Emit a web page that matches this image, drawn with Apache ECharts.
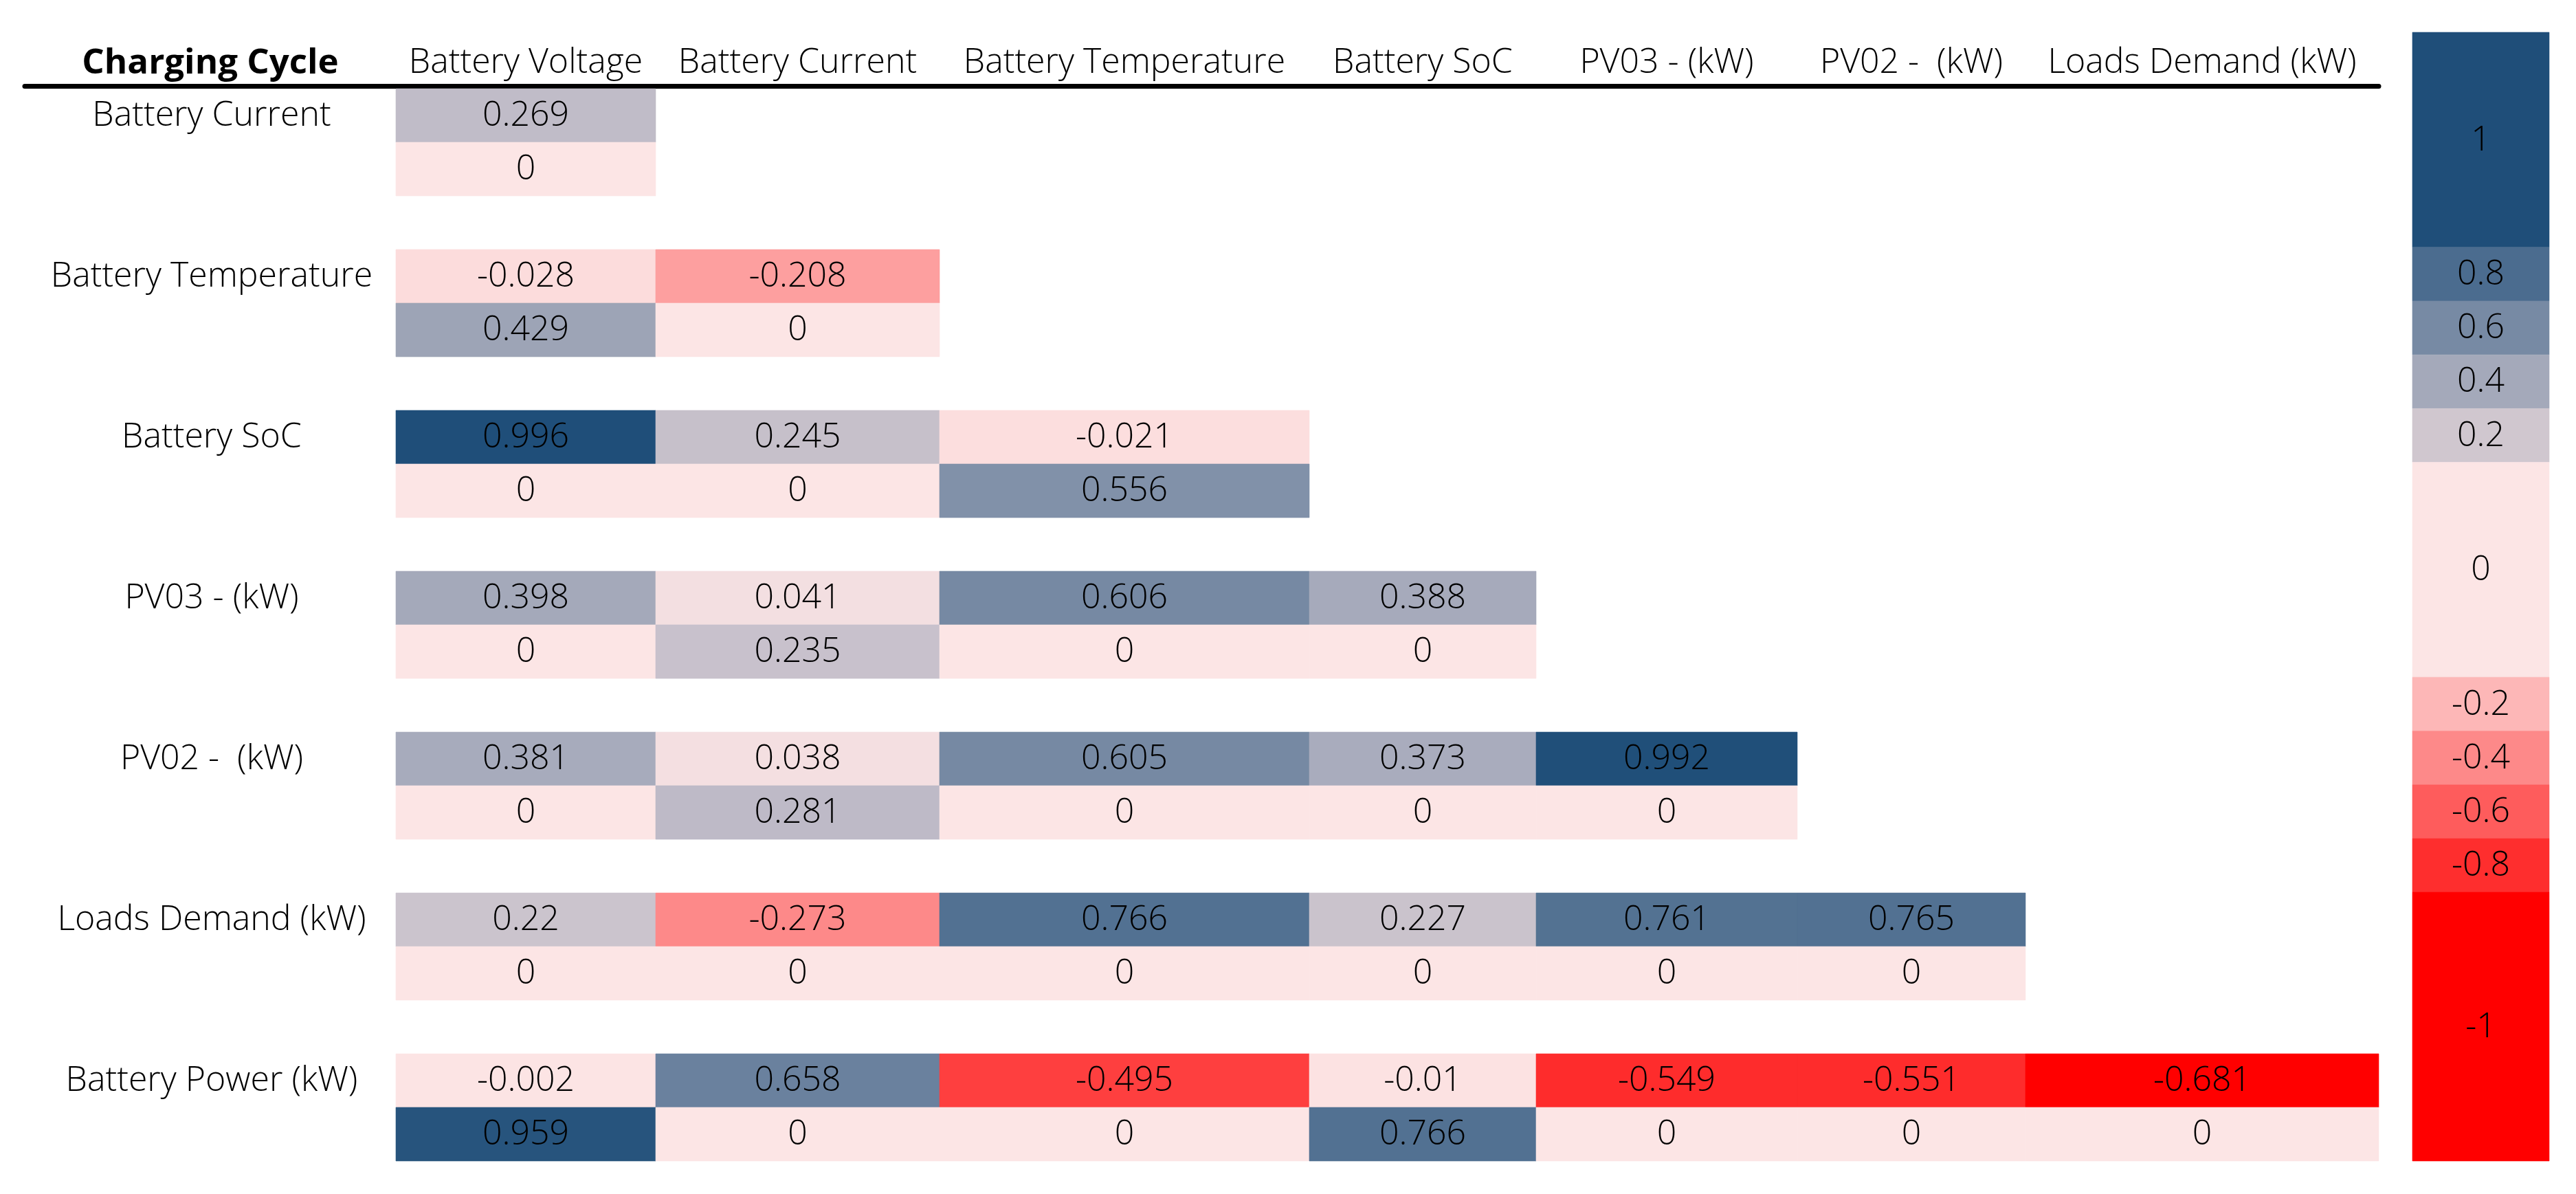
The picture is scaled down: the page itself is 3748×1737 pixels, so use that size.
<!DOCTYPE html>
<html><head><meta charset="utf-8">
<script src="https://cdn.jsdelivr.net/npm/echarts@6/dist/echarts.min.js"></script>
<style>html,body{margin:0;padding:0;background:#fff}#c{width:3748px;height:1737px}</style>
</head><body><div id="c"></div>
<script>
// ---------- data ----------
const title = 'Charging Cycle';
const columns = ['Battery Voltage', 'Battery Current', 'Battery Temperature', 'Battery SoC', 'PV03 - (kW)', 'PV02 -  (kW)', 'Loads Demand (kW)'];
const rows = ['Battery Current', 'Battery Temperature', 'Battery SoC', 'PV03 - (kW)', 'PV02 -  (kW)', 'Loads Demand (kW)', 'Battery Power (kW)'];
const correlations = [
  [0.269],
  [-0.028, -0.208],
  [0.996, 0.245, -0.021],
  [0.398, 0.041, 0.606, 0.388],
  [0.381, 0.038, 0.605, 0.373, 0.992],
  [0.22, -0.273, 0.766, 0.227, 0.761, 0.765],
  [-0.002, 0.658, -0.495, -0.01, -0.549, -0.551, -0.681]
];
const pValues = [
  [0],
  [0.429, 0],
  [0, 0, 0.556],
  [0, 0.235, 0, 0],
  [0, 0.281, 0, 0, 0],
  [0, 0, 0, 0, 0, 0],
  [0.959, 0, 0, 0.766, 0, 0, 0]
];
const legendLabels = [1, 0.8, 0.6, 0.4, 0.2, 0, -0.2, -0.4, -0.6, -0.8, -1];

// ---------- layout / style ----------
const labelColWidth = 540;
const colWidths = [378, 413, 538, 330, 380, 332, 514];
const legendSpans = [4, 1, 1, 1, 1, 4, 1, 1, 1, 1, 5];
const FONT = "'Open Sans', 'Noto Sans', sans-serif";
const FS = 50;
const RED = [255, 0, 0], MID = [252, 229, 229], BLUE = [31, 78, 121];

const edges = [0];
colWidths.forEach(w => edges.push(edges[edges.length - 1] + w));
const totalW = edges[edges.length - 1];

function colorFor(v, lo, hi) {
  let b, t;
  if (v >= 0) { b = BLUE; t = hi > 0 ? v / hi : 0; }
  else { b = RED; t = lo < 0 ? v / lo : 0; }
  t = Math.max(0, Math.min(1, t));
  return 'rgb(' + MID.map((x, i) => Math.round(x + (b[i] - x) * t)).join(',') + ')';
}

// cells: [col, slot, value]
const cellData = [];
rows.forEach((r, ri) => {
  correlations[ri].forEach((v, ci) => cellData.push([ci, ri * 3, v]));
  pValues[ri].forEach((v, ci) => cellData.push([ci, ri * 3 + 1, v]));
});
const allVals = cellData.map(d => d[2]);
const lo = Math.min(...allVals), hi = Math.max(...allVals);

const legendData = [];
let acc = 0;
legendLabels.forEach((v, i) => { legendData.push([i, acc, v]); acc += legendSpans[i]; });
const legendSlots = acc;

function txt(text, x, y, extra) {
  return Object.assign({ type: 'text', style: { text: String(text), x: x, y: y, align: 'center', verticalAlign: 'middle', fontSize: FS, fontFamily: FONT, fontWeight: 300, fill: '#000' } }, extra || {});
}

const chart = echarts.init(document.getElementById('c'), null, { renderer: 'canvas' });
chart.setOption({
  animation: false,
  backgroundColor: '#fff',
  grid: [
    { left: 36, top: 129, width: labelColWidth + totalW, height: 1560 },
    { left: 3510, top: 47, width: 199, height: 1642 }
  ],
  xAxis: [
    { gridIndex: 0, type: 'value', position: 'top', min: -labelColWidth, max: totalW, offset: 3.5,
      axisLine: { show: true, onZero: false, lineStyle: { color: '#000', width: 7 } },
      axisTick: { show: false }, axisLabel: { show: false }, splitLine: { show: false } },
    { gridIndex: 1, type: 'value', min: 0, max: 1, show: false }
  ],
  yAxis: [
    { gridIndex: 0, type: 'value', min: 0, max: 20, inverse: true, show: false },
    { gridIndex: 1, type: 'value', min: 0, max: legendSlots, inverse: true, show: false }
  ],
  series: [
    {
      type: 'custom', xAxisIndex: 0, yAxisIndex: 0, data: cellData,
      renderItem: function (params, api) {
        const c = api.value(0), s = api.value(1), v = api.value(2);
        const p0 = api.coord([edges[c], s]);
        const p1 = api.coord([edges[c + 1], s + 1]);
        const fill = colorFor(v, lo, hi);
        return { type: 'group', children: [
          { type: 'rect', shape: { x: p0[0], y: p0[1], width: p1[0] - p0[0], height: p1[1] - p0[1] }, style: { fill: fill, stroke: fill, lineWidth: 0.6 } },
          txt(v, (p0[0] + p1[0]) / 2, (p0[1] + p1[1]) / 2 + 1)
        ] };
      }
    },
    {
      type: 'custom', xAxisIndex: 0, yAxisIndex: 0, data: rows.map((r, i) => [i]),
      renderItem: function (params, api) {
        const i = api.value(0);
        const p = api.coord([-labelColWidth / 2, i * 3 + 0.5]);
        return txt(rows[i], p[0] + 2, p[1] + 1);
      }
    },
    {
      type: 'custom', xAxisIndex: 0, yAxisIndex: 0, data: columns.map((c, i) => [i]),
      renderItem: function (params, api) {
        const i = api.value(0);
        const p = api.coord([(edges[i] + edges[i + 1]) / 2, -0.5]);
        return txt(columns[i], p[0], p[1] + 2);
      }
    },
    {
      type: 'custom', xAxisIndex: 0, yAxisIndex: 0, data: [[0]],
      renderItem: function (params, api) {
        const p = api.coord([-labelColWidth / 2, -0.5]);
        const t = txt(title, p[0], p[1] + 2);
        t.style.fontWeight = 'bold';
        t.style.fontSize = 51;
        return t;
      }
    },
    {
      type: 'custom', xAxisIndex: 1, yAxisIndex: 1, data: legendData,
      renderItem: function (params, api) {
        const i = api.value(0), s = api.value(1), v = api.value(2);
        const p0 = api.coord([0, s]);
        const p1 = api.coord([1, s + legendSpans[i]]);
        const fill = colorFor(v, -1, 1);
        return { type: 'group', children: [
          { type: 'rect', shape: { x: p0[0], y: p0[1], width: p1[0] - p0[0], height: p1[1] - p0[1] }, style: { fill: fill, stroke: fill, lineWidth: 0.6 } },
          txt(v, (p0[0] + p1[0]) / 2, (p0[1] + p1[1]) / 2 + 1)
        ] };
      }
    }
  ]
});
</script>
</body></html>
